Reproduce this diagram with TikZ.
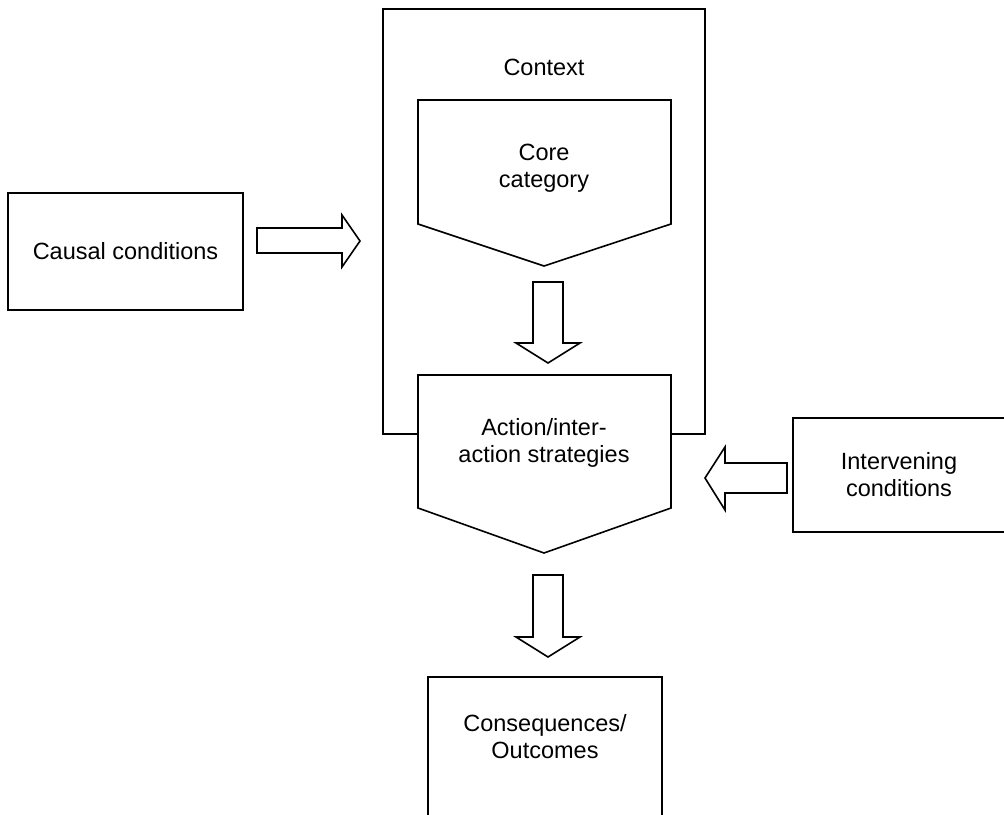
\documentclass[tikz,border=0pt]{standalone}
\usepackage{fontspec}
\setmainfont{Liberation Sans}
\begin{document}
\begin{tikzpicture}[x=1pt,y=-1pt,
  outline/.style={draw=black, line width=1.6pt, line join=miter},
  txt/.style={font=\fontsize{23.5}{27}\selectfont, align=center, inner sep=0pt},
  boxnode/.style={outline, fill=white, txt},
  blockarrow/.style={outline, fill=white}]
\useasboundingbox (0,0) rectangle (1004,814);
\clip (0,0) rectangle (1004,814);

% context frame, opened at the bottom by the strategies block
\draw[outline] (383,9) rectangle (705,434);
\node[txt] (context) at (544,67) {Context};

% core category pentagon
\draw[outline, fill=white] (418,100) -- (671,100) -- (671,224) -- (544,266) -- (418,224) -- cycle;
\node[txt] (core) at (544,168) {Core\\category};

% action/interaction strategies pentagon
\draw[outline, fill=white] (418,375) -- (671,375) -- (671,508) -- (544,553) -- (418,508) -- cycle;
\node[txt] (action) at (544,443) {Action/inter-\\action strategies};

% side and bottom boxes
\node[boxnode, minimum width=235, minimum height=117] (causal) at (125.5,251.5) {Causal conditions};
\node[boxnode, minimum width=212, minimum height=114] (interv) at (899,475) {Intervening\\conditions};
\node[boxnode, minimum width=234, minimum height=150] (conseq) at (545,752) {};
\node[txt] (conseqtxt) at (545,737) {Consequences/\\Outcomes};

% block arrows
\draw[blockarrow] (257,228) -- (342,228) -- (342,215) -- (360,241) -- (342,267) -- (342,253) -- (257,253) -- cycle;
\draw[blockarrow] (533,282) -- (563,282) -- (563,343) -- (580,343) -- (548,363) -- (516,343) -- (533,343) -- cycle;
\draw[blockarrow] (787,463) -- (725,463) -- (725,447) -- (705,478) -- (725,510) -- (725,493) -- (787,493) -- cycle;
\draw[blockarrow] (533,575) -- (563,575) -- (563,637) -- (580,637) -- (548,657) -- (516,637) -- (533,637) -- cycle;
\end{tikzpicture}
\end{document}
